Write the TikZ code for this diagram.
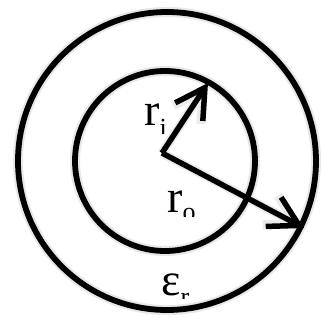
\documentclass[tikz,border=0pt]{standalone}
\usepackage{fontspec}
\setmainfont{Liberation Serif}
\usetikzlibrary{arrows.meta}
\begin{document}
\begin{tikzpicture}[x=1pt,y=-1pt,
  ring/.style={line width=5.8pt},
  ringshadow/.style={line width=10pt, black!9},
  radline/.style={line width=5.5pt, -{Straight Barb[length=29pt,width=33pt]}},
  radshadow/.style={line width=9pt, black!8, -{Straight Barb[length=29pt,width=33pt]}},
  lbl/.style={inner sep=0pt, anchor=base west, font=\fontsize{46}{46}\selectfont}]
\fill[white] (0,0) rectangle (322,322);
\useasboundingbox (0,0) rectangle (322,322);
% coordinates
\coordinate (oc) at (167,161);
\coordinate (ic) at (165,161);
\coordinate (c) at (162,153);
\coordinate (ti) at (208,83);
\coordinate (to) at (304,228);
% shadows
\begin{scope}[shift={(2,3)}]
  \draw[ringshadow] (oc) circle[radius=149];
  \draw[ringshadow] (ic) circle[radius=90];
  \draw[radshadow] (c) -- (ti);
  \draw[radshadow] (c) -- (to);
\end{scope}
% circles
\draw[ring] (oc) circle[radius=149];
\draw[ring] (ic) circle[radius=90];
% radii
\draw[radline] (c) -- (ti);
\draw[radline] (c) -- (to);
% labels (clipped at the bottom as in the original)
\begin{scope}
  \clip (120,90) rectangle (200,133);
  \node[lbl] (ri) at (144,125) {r\raisebox{-11pt}{\fontsize{26}{26}\selectfont i}};
\end{scope}
\begin{scope}
  \clip (150,175) rectangle (220,216);
  \node[lbl] (ro) at (167,212) {r\raisebox{-8pt}{\fontsize{26}{26}\selectfont o}};
\end{scope}
\begin{scope}
  \clip (150,260) rectangle (210,298);
  \node[lbl] (er) at (161,295) {ε\raisebox{-10pt}{\fontsize{26}{26}\selectfont r}};
\end{scope}
\end{tikzpicture}
\end{document}
